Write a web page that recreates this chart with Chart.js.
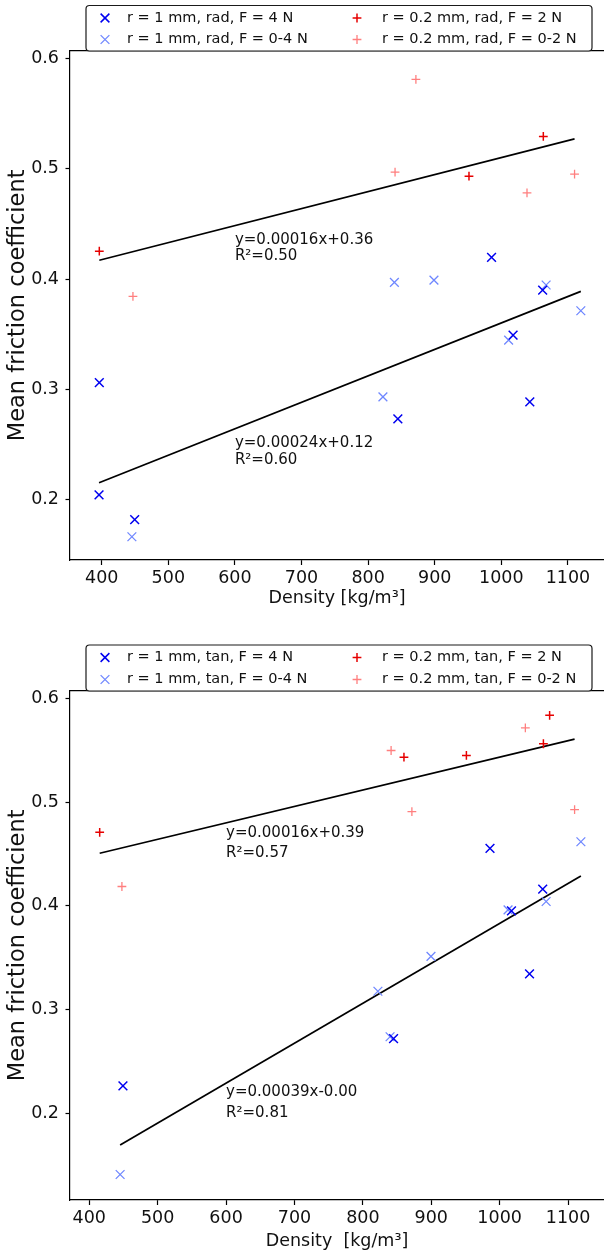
<!DOCTYPE html>
<html>
<head>
<meta charset="utf-8">
<script src="https://cdn.jsdelivr.net/npm/chart.js@4.4.1/dist/chart.umd.min.js"></script>
<style>
  html, body { margin: 0; padding: 0; background: #fff; }
  #wrap { position: relative; width: 604px; height: 1254px; overflow: hidden; background: #fff; }
  canvas { position: absolute; left: 0; }
  #radChart { top: 0; }
  #tanChart { top: 620px; }
</style>
</head>
<body>
<div id="wrap">
  <canvas id="radChart" width="604" height="620"></canvas>
  <canvas id="tanChart" width="604" height="634"></canvas>
</div>
<script>
// ---- tick labels ----
const densityTicks = [400, 500, 600, 700, 800, 900, 1000, 1100];
const frictionTicks = [0.2, 0.3, 0.4, 0.5, 0.6];

// ---- radial direction: density [kg/m3] vs mean friction coefficient ----
const radBig4N_x   = [396.4, 396.0, 449.5, 844.6, 1042.7, 1017.6, 985.3, 1062.0];
const radBig4N_y   = [0.306, 0.204, 0.1815, 0.273, 0.2885, 0.349, 0.4196, 0.390];
const radBigRamp_x = [445.3, 822.2, 839.4, 898.8, 1010.9, 1067.2, 1119.3];
const radBigRamp_y = [0.166, 0.293, 0.397, 0.399, 0.3445, 0.3946, 0.3712];
const radSmall2N_x   = [396.4, 951.4, 1063.0];
const radSmall2N_y   = [0.4253, 0.4934, 0.5295];
const radSmallRamp_x = [446.9, 840.4, 871.7, 1038.5, 1109.9];
const radSmallRamp_y = [0.3843, 0.497, 0.5813, 0.4783, 0.4952];

// ---- tangential direction ----
const tanBig4N_x   = [449.2, 844.9, 985.9, 1017.3, 1043.7, 1063.0];
const tanBig4N_y   = [0.2263, 0.2718, 0.4555, 0.3952, 0.3343, 0.4161];
const tanBigRamp_x = [445.1, 822.0, 839.8, 899.6, 1012.3, 1068.0, 1118.8];
const tanBigRamp_y = [0.1407, 0.3176, 0.2737, 0.3513, 0.3961, 0.4042, 0.4619];
const tanSmall2N_x   = [415.2, 860.1, 951.4, 1064.0, 1073.1];
const tanSmall2N_y   = [0.471, 0.5435, 0.5452, 0.5565, 0.5839];
const tanSmallRamp_x = [447.7, 841.3, 871.7, 1037.6, 1109.6];
const tanSmallRamp_y = [0.4187, 0.55, 0.491, 0.5719, 0.4929];

// ---- legend / annotation texts ----
const radLabels = ['r = 1 mm, rad, F = 4 N', 'r = 1 mm, rad, F = 0-4 N',
                   'r = 0.2 mm, rad, F = 2 N', 'r = 0.2 mm, rad, F = 0-2 N'];
const tanLabels = ['r = 1 mm, tan, F = 4 N', 'r = 1 mm, tan, F = 0-4 N',
                   'r = 0.2 mm, tan, F = 2 N', 'r = 0.2 mm, tan, F = 0-2 N'];
const radFitText = [['y=0.00016x+0.36', 'R²=0.50'], ['y=0.00024x+0.12', 'R²=0.60']];
const tanFitText = [['y=0.00016x+0.39', 'R²=0.57'], ['y=0.00039x-0.00', 'R²=0.81']];
const xTitleRad = 'Density [kg/m³]';
const xTitleTan = 'Density  [kg/m³]';
const yTitle = 'Mean friction coefficient';

// ---- styles ----
const FONT = "'DejaVu Sans', 'Liberation Sans', sans-serif";
const STYLES = {
  big4N:     { pointStyle: 'crossRot', color: '#0000f0', radius: 6.2, width: 1.5 },
  bigRamp:   { pointStyle: 'crossRot', color: '#7088ff', radius: 6.2, width: 1.3 },
  small2N:   { pointStyle: 'cross',    color: '#e60000', radius: 4.4, width: 1.5 },
  smallRamp: { pointStyle: 'cross',    color: '#ff7f7f', radius: 4.4, width: 1.3 }
};

function points(xs, ys) { return xs.map((x, i) => ({ x: x, y: ys[i] })); }

// ordinary least squares over a group, drawn from its smallest to largest density
function leastSquares(xs, ys) {
  const n = xs.length;
  const mx = xs.reduce((a, b) => a + b, 0) / n;
  const my = ys.reduce((a, b) => a + b, 0) / n;
  let sxy = 0, sxx = 0;
  for (let i = 0; i < n; i++) { sxy += (xs[i] - mx) * (ys[i] - my); sxx += (xs[i] - mx) * (xs[i] - mx); }
  const m = sxy / sxx, b = my - m * mx;
  const x0 = Math.min(...xs), x1 = Math.max(...xs);
  return [{ x: x0, y: m * x0 + b }, { x: x1, y: m * x1 + b }];
}

function scatterSet(label, xs, ys, st) {
  return {
    type: 'scatter', label: label, data: points(xs, ys),
    pointStyle: st.pointStyle, pointRadius: st.radius, pointHoverRadius: st.radius,
    borderColor: st.color, backgroundColor: st.color, borderWidth: st.width
  };
}
function fitSet(xs, ys) {
  return {
    type: 'line', label: 'fit', data: leastSquares(xs, ys),
    borderColor: '#000', borderWidth: 1.7, pointRadius: 0, fill: false, tension: 0
  };
}

function drawMarker(ctx, st, x, y) {
  ctx.beginPath();
  if (st.pointStyle === 'crossRot') {
    const d = st.radius * Math.SQRT1_2;
    ctx.moveTo(x - d, y - d); ctx.lineTo(x + d, y + d);
    ctx.moveTo(x + d, y - d); ctx.lineTo(x - d, y + d);
  } else {
    const r = st.radius;
    ctx.moveTo(x - r, y); ctx.lineTo(x + r, y);
    ctx.moveTo(x, y - r); ctx.lineTo(x, y + r);
  }
  ctx.strokeStyle = st.color; ctx.lineWidth = st.width; ctx.stroke();
}

function roundRect(ctx, x, y, w, h, r) {
  ctx.beginPath();
  ctx.moveTo(x + r, y);
  ctx.lineTo(x + w - r, y); ctx.arcTo(x + w, y, x + w, y + r, r);
  ctx.lineTo(x + w, y + h - r); ctx.arcTo(x + w, y + h, x + w - r, y + h, r);
  ctx.lineTo(x + r, y + h); ctx.arcTo(x, y + h, x, y + h - r, r);
  ctx.lineTo(x, y + r); ctx.arcTo(x, y, x + r, y, r);
  ctx.closePath();
}

function buildChart(id, cfg) {
  const s = cfg.series;
  const datasets = [
    scatterSet(cfg.labels[0], s.big4N[0], s.big4N[1], STYLES.big4N),
    scatterSet(cfg.labels[1], s.bigRamp[0], s.bigRamp[1], STYLES.bigRamp),
    scatterSet(cfg.labels[2], s.small2N[0], s.small2N[1], STYLES.small2N),
    scatterSet(cfg.labels[3], s.smallRamp[0], s.smallRamp[1], STYLES.smallRamp),
    fitSet(s.small2N[0].concat(s.smallRamp[0]), s.small2N[1].concat(s.smallRamp[1])),
    fitSet(s.big4N[0].concat(s.bigRamp[0]), s.big4N[1].concat(s.bigRamp[1]))
  ];

  // top spine of the axes frame
  const topSpine = {
    id: 'topSpine',
    afterDatasetsDraw(chart) {
      const a = chart.chartArea, ctx = chart.ctx;
      ctx.save();
      ctx.beginPath(); ctx.moveTo(a.left - 0.6, a.top); ctx.lineTo(a.right + 2, a.top);
      ctx.strokeStyle = '#000'; ctx.lineWidth = 1.2; ctx.stroke();
      ctx.restore();
    }
  };

  // regression equations written at data coordinates
  const fitNotes = {
    id: 'fitNotes',
    afterDatasetsDraw(chart) {
      const ctx = chart.ctx, xs = chart.scales.x, ys = chart.scales.y;
      ctx.save();
      ctx.font = '15px ' + FONT; ctx.fillStyle = '#111';
      ctx.textAlign = 'left'; ctx.textBaseline = 'middle';
      cfg.notes.forEach(n => {
        const px = xs.getPixelForValue(n.x), py = ys.getPixelForValue(n.y);
        n.text.forEach((t, i) => ctx.fillText(t, px, py + i * n.gap));
      });
      ctx.restore();
    }
  };

  // two-column legend box over the top of the axes
  const boxLegend = {
    id: 'boxLegend',
    afterDraw(chart) {
      const ctx = chart.ctx, L = cfg.legend;
      ctx.save();
      roundRect(ctx, L.left, L.top, L.right - L.left, L.bottom - L.top, 3.5);
      ctx.fillStyle = '#fff'; ctx.fill();
      ctx.strokeStyle = '#1a1a1a'; ctx.lineWidth = 1.2; ctx.stroke();
      const order = [['big4N', 0, 0], ['bigRamp', 0, 1], ['small2N', 1, 0], ['smallRamp', 1, 1]];
      ctx.font = '14.5px ' + FONT; ctx.textAlign = 'left'; ctx.textBaseline = 'middle';
      order.forEach((o, i) => {
        const y = L.rows[o[2]];
        drawMarker(ctx, STYLES[o[0]], L.markerX[o[1]], y);
        ctx.fillStyle = '#111';
        ctx.fillText(cfg.labels[i], L.textX[o[1]], y);
      });
      ctx.restore();
    }
  };

  return new Chart(document.getElementById(id), {
    data: { datasets: datasets },
    plugins: [topSpine, fitNotes, boxLegend],
    options: {
      responsive: false,
      animation: false,
      events: [],
      layout: { autoPadding: false, padding: { top: cfg.padTop, left: 0, right: 0, bottom: 0 } },
      plugins: { legend: { display: false }, tooltip: { enabled: false } },
      scales: {
        x: {
          type: 'linear', position: 'bottom', min: cfg.xMin, max: cfg.xMax,
          afterBuildTicks: sc => { sc.ticks = densityTicks.map(v => ({ value: v })); },
          afterFit: sc => { sc.height = cfg.xAxisHeight; sc.paddingLeft = 0; sc.paddingRight = 0; },
          ticks: { color: '#111', font: { family: FONT, size: 17.5 }, padding: 3,
                   maxRotation: 0, autoSkip: false, callback: v => String(v) },
          grid: { display: true, drawOnChartArea: false, drawTicks: true, tickLength: 5,
                  tickColor: '#000', tickWidth: 1.2, color: '#000' },
          border: { display: true, color: '#000', width: 1.2 },
          title: { display: true, text: cfg.xTitle, color: '#111',
                   font: { family: FONT, size: 17.5 }, padding: { top: 0, bottom: cfg.xTitlePad } }
        },
        y: {
          type: 'linear', position: 'left', min: cfg.yMin, max: cfg.yMax,
          afterBuildTicks: sc => { sc.ticks = frictionTicks.map(v => ({ value: v })); },
          afterFit: sc => { sc.width = 70; sc.paddingTop = 0; sc.paddingBottom = 0; },
          ticks: { color: '#111', font: { family: FONT, size: 17.5 }, padding: 6.5,
                   autoSkip: false, callback: v => v.toFixed(1) },
          grid: { display: true, drawOnChartArea: false, drawTicks: true, tickLength: 4.5,
                  tickColor: '#000', tickWidth: 1.2, color: '#000' },
          border: { display: true, color: '#000', width: 1.2 },
          title: { display: true, text: yTitle, color: '#111',
                   font: { family: FONT, size: 22.5 }, padding: { top: 4.5, bottom: 0 } }
        }
      }
    }
  });
}

buildChart('radChart', {
  series: {
    big4N: [radBig4N_x, radBig4N_y], bigRamp: [radBigRamp_x, radBigRamp_y],
    small2N: [radSmall2N_x, radSmall2N_y], smallRamp: [radSmallRamp_x, radSmallRamp_y]
  },
  labels: radLabels,
  xMin: 352.4, xMax: 1154.1, yMin: 0.1449, yMax: 0.6073,
  padTop: 50.7, xAxisHeight: 60, xTitle: xTitleRad, xTitlePad: 11,
  notes: [
    { x: 600, y: 0.4354, gap: 16.5, text: radFitText[0] },
    { x: 600, y: 0.2508, gap: 16.7, text: radFitText[1] }
  ],
  legend: { left: 86, right: 592, top: 5.5, bottom: 51, rows: [18, 39.5],
            markerX: [105, 357], textX: [127, 382] }
});

buildChart('tanChart', {
  series: {
    big4N: [tanBig4N_x, tanBig4N_y], bigRamp: [tanBigRamp_x, tanBigRamp_y],
    small2N: [tanSmall2N_x, tanSmall2N_y], smallRamp: [tanSmallRamp_x, tanSmallRamp_y]
  },
  labels: tanLabels,
  xMin: 371.8, xMax: 1152.6, yMin: 0.1161, yMax: 0.6077,
  padTop: 70.7, xAxisHeight: 54, xTitle: xTitleTan, xTitlePad: 2,
  notes: [
    { x: 600, y: 0.4705, gap: 20.6, text: tanFitText[0] },
    { x: 600, y: 0.2203, gap: 20.6, text: tanFitText[1] }
  ],
  legend: { left: 86, right: 592, top: 25, bottom: 71, rows: [37.5, 59.5],
            markerX: [105, 357], textX: [127, 382] }
});
</script>
</body>
</html>
